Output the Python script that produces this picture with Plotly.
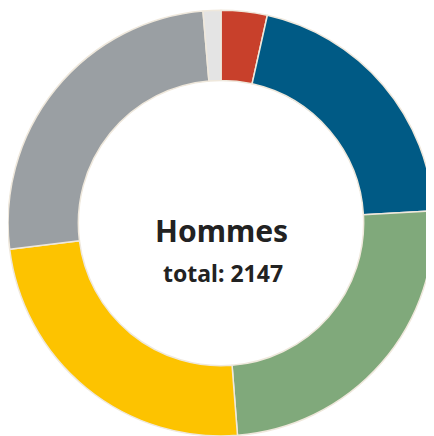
import plotly.graph_objects as go

labels = ["Catégorie A", "Catégorie B", "Catégorie C", "Catégorie D", "Catégorie E", "Catégorie F"]
values = [75, 442, 530, 521, 550, 29]
colors = ["#c8402b", "#005a85", "#80a97b", "#fdc300", "#9a9fa3", "#e4e4e4"]
total = 2147

fig = go.Figure(go.Pie(
    labels=labels, values=values, hole=0.67,
    sort=False, direction="clockwise", rotation=0,
    marker=dict(colors=colors, line=dict(color="#efe8dc", width=1.5)),
    textinfo="none", hoverinfo="label+value",
    domain=dict(x=[0.0, 1.0], y=[0.0, 0.995]),
))

fig.add_annotation(text="<b>Hommes</b>", x=0.502, y=0.481, xref="paper", yref="paper",
                   showarrow=False, font=dict(size=30, color="#222222", family="Noto Sans"))
fig.add_annotation(text="<b>total: %d</b>" % total, x=0.505, y=0.381, xref="paper", yref="paper",
                   showarrow=False, font=dict(size=23, color="#222222", family="Noto Sans"))

fig.update_layout(
    width=426, height=428,
    showlegend=False,
    margin=dict(l=0, r=0, t=0, b=0),
    paper_bgcolor="white",
)
fig.write_html("out.html")
